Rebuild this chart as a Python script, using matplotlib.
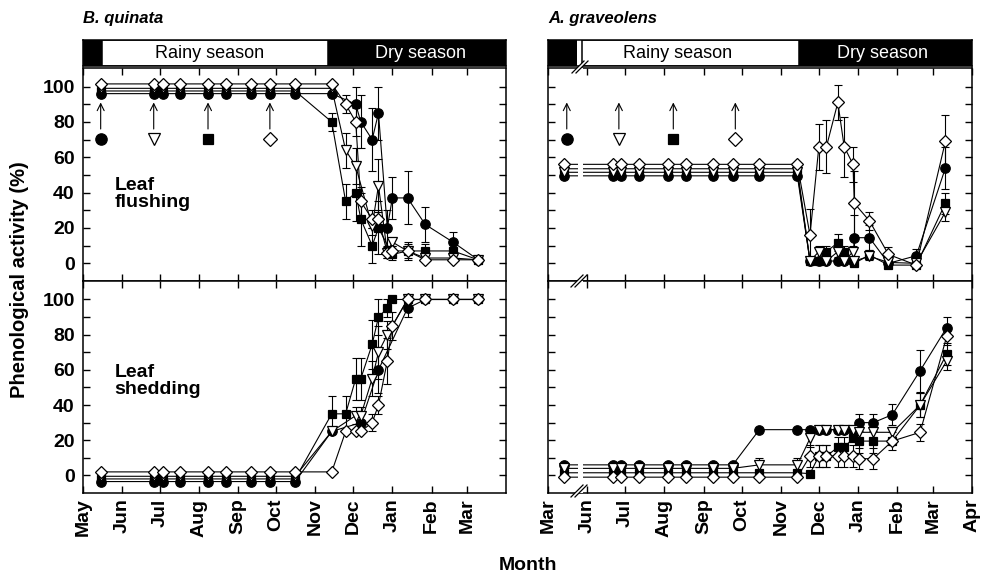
import numpy as np
import matplotlib
matplotlib.use("Agg")
import matplotlib.pyplot as plt
import matplotlib.dates as mdates
from matplotlib.lines import Line2D
from matplotlib.patches import Rectangle, Polygon

plt.rcParams['font.family'] = ['Liberation Sans', 'DejaVu Sans']

nan = np.nan

# ---------------- B. quinata ----------------
bq_dates = ['2000-05-15', '2000-06-26', '2000-07-03', '2000-07-17', '2000-08-08', '2000-08-22',
            '2000-09-11', '2000-09-26', '2000-10-16', '2000-11-14', '2000-11-25', '2000-12-03',
            '2000-12-07', '2000-12-16', '2000-12-21', '2000-12-28', '2001-01-01', '2001-01-13',
            '2001-01-27', '2001-02-18', '2001-03-10']

bq_flush_circle = [96, 96, 96, 96, 96, 96, 96, 96, 96, 96, nan, 90, 80, 70, 85, 20, 37, 37, 22, 12, 2]
bq_flush_triangle = [99, 99, 99, 99, 99, 99, 99, 99, 99, 99, 64, 55, nan, 21, 44, 6, 12, 7, 3, 3, 2]
bq_flush_square = [97.5, 97.5, 97.5, 97.5, 97.5, 97.5, 97.5, 97.5, 97.5, 80, 35, 40, 25, 10, 20, nan, 5, 7, 7, 7, 2]
bq_flush_diamond = [101.5, 101.5, 101.5, 101.5, 101.5, 101.5, 101.5, 101.5, 101.5, 101.5, 90, 80, 35, 25, 25, 6, 7, 7, 2, 2, 2]
bq_flush_circle_err = [0, 0, 0, 0, 0, 0, 0, 0, 0, 0, 0, 10, 15, 18, 15, 10, 12, 15, 10, 6, 0]
bq_flush_triangle_err = [0, 0, 0, 0, 0, 0, 0, 0, 0, 0, 10, 10, 0, 5, 15, 3, 2, 2, 0, 0, 0]
bq_flush_square_err = [0, 0, 0, 0, 0, 0, 0, 0, 0, 5, 10, 16, 15, 10, 15, 0, 3, 4, 4, 4, 0]
bq_flush_diamond_err = [0, 0, 0, 0, 0, 0, 0, 0, 0, 0, 5, 8, 8, 5, 5, 3, 3, 5, 0, 0, 0]

bq_shed_circle = [-3.5, -3.5, -3.5, -3.5, -3.5, -3.5, -3.5, -3.5, -3.5, 25, nan, nan, 30, nan, 60, nan, nan, 95, 100, 100, 100]
bq_shed_triangle = [-0.5, -0.5, -0.5, -0.5, -0.5, -0.5, -0.5, -0.5, -0.5, 25, nan, 34, 34, 55, 70, 80, nan, 100, 100, 100, 100]
bq_shed_square = [-2, -2, -2, -2, -2, -2, -2, -2, -2, 35, 35, 55, 55, 74.5, 90, 95, 100, 100, 100, 100, 100]
bq_shed_diamond = [2, 2, 2, 2, 2, 2, 2, 2, 2, 2, 25, 25, 25, 30, 40, 65, 85, 100, 100, 100, 100]
bq_shed_circle_err = [0, 0, 0, 0, 0, 0, 0, 0, 0, 0, 0, 0, 5, 0, 13, 0, 0, 5, 0, 0, 0]
bq_shed_triangle_err = [0, 0, 0, 0, 0, 0, 0, 0, 0, 0, 0, 5, 5, 10, 15, 8, 0, 0, 0, 0, 0]
bq_shed_square_err = [0, 0, 0, 0, 0, 0, 0, 0, 0, 10, 10, 12, 12, 14, 10, 5, 0, 0, 0, 0, 0]
bq_shed_diamond_err = [0, 0, 0, 0, 0, 0, 0, 0, 0, 0, 0, 0, 0, 5, 5, 13, 8, 0, 0, 0, 0]

# ---------------- A. graveolens ----------------
ag_flush_dates = ['2000-04-07', '2000-06-21', '2000-06-28', '2000-07-12', '2000-08-04', '2000-08-18',
                  '2000-09-08', '2000-09-24', '2000-10-15', '2000-11-14', '2000-11-24', '2000-12-01',
                  '2000-12-07', '2000-12-16', '2000-12-21', '2000-12-28', '2000-12-29', '2001-01-10',
                  '2001-01-25', '2001-02-16', '2001-03-11']
ag_flush_circle = [49.5, 49.5, 49.5, 49.5, 49.5, 49.5, 49.5, 49.5, 49.5, 49.5, 1.3, 1.3, 1.3, 1.3, 1.3, 1.3, 14.5, 14.5, 0, 4.3, 54]
ag_flush_triangle = [51.5, 51.5, 51.5, 51.5, 51.5, 51.5, 51.5, 51.5, 51.5, 51.5, 1.3, 6.6, 1.3, 6.6, 1.3, 6.6, 1.3, 4, 0.5, 0, 29]
ag_flush_square = [53.5, 53.5, 53.5, 53.5, 53.5, 53.5, 53.5, 53.5, 53.5, 53.5, 1.3, 1.3, 6.6, 11.7, 6.6, nan, 0, 4.7, -1, -1, 34]
ag_flush_diamond = [56, 56, 56, 56, 56, 56, 56, 56, 56, 56, 16, 66, 66, 91, 66, 56, 34, 24, 5, -1, 69]
ag_flush_circle_err = [0, 0, 0, 0, 0, 0, 0, 0, 0, 0, 0, 0, 0, 0, 0, 0, 13, 7, 0, 4, 12]
ag_flush_triangle_err = [0, 0, 0, 0, 0, 0, 0, 0, 0, 0, 0, 3, 0, 3, 0, 3, 0, 0, 0, 0, 5]
ag_flush_square_err = [0, 0, 0, 0, 0, 0, 0, 0, 0, 0, 0, 0, 3, 5, 3, 0, 0, 3, 0, 0, 6]
ag_flush_diamond_err = [0, 0, 0, 0, 0, 0, 0, 0, 0, 0, 15, 13, 15, 10, 17, 10, 18, 5, 4, 0, 15]

ag_shed_dates = ['2000-04-07', '2000-06-21', '2000-06-28', '2000-07-12', '2000-08-04', '2000-08-18',
                 '2000-09-08', '2000-09-24', '2000-10-15', '2000-11-14', '2000-11-24', '2000-12-01',
                 '2000-12-07', '2000-12-16', '2000-12-21', '2000-12-28', '2001-01-02', '2001-01-13',
                 '2001-01-28', '2001-02-19', '2001-03-12']
ag_shed_circle = [6, 6, 6, 6, 6, 6, 6, 6, 26, 26, 26, 26, 26, 26, 26, 26, 30, 30, 34.5, 59.5, 84]
ag_shed_triangle = [4, 4, 4, 4, 4, 4, 4, 4, 6, 6, 21, 26, 26, 26, 26, 26, 24.5, 24.5, 24.5, 40, 65]
ag_shed_square = [1.5, 1.5, 1.5, 1.5, 1.5, 1.5, 1.5, 1.5, 1.5, 1.5, 1, 11, 11, 16, 16, 21, 19.5, 19.5, 19.5, 40, 69]
ag_shed_diamond = [-1, -1, -1, -1, -1, -1, -1, -1, -1, -1, 11, 11, 11, 11, 11, 11, 9.5, 9.5, 19.5, 24.5, 79]
ag_shed_circle_err = [0, 0, 0, 0, 0, 0, 0, 0, 0, 0, 0, 0, 0, 0, 0, 0, 5, 5, 6, 12, 6]
ag_shed_triangle_err = [0, 0, 0, 0, 0, 0, 0, 0, 4, 4, 5, 0, 0, 0, 0, 0, 3, 3, 3, 7, 5]
ag_shed_square_err = [0, 0, 0, 0, 0, 0, 0, 0, 0, 0, 0, 6, 6, 6, 6, 0, 7, 7, 0, 7, 6]
ag_shed_diamond_err = [0, 0, 0, 0, 0, 0, 0, 0, 0, 0, 6, 6, 6, 6, 6, 6, 6, 6, 5, 5, 5]

# arrows marking the onset events (one per symbol)
bq_arrow_dates = ['2000-05-15', '2000-06-26', '2000-08-08', '2000-09-26']
ag_arrow_dates = ['2000-04-14', '2000-06-26', '2000-08-08', '2000-09-26']

# seasons
bq_rainy = ('2000-05-16', '2000-11-11')
ag_rainy = ('2000-05-20', '2000-11-15')
ag_black_end = '2000-05-08'

month_ticks = ['2000-05-01', '2000-06-01', '2000-07-01', '2000-08-01', '2000-09-01', '2000-10-01',
               '2000-11-01', '2000-12-01', '2001-01-01', '2001-02-01', '2001-03-01', '2001-04-01']
bq_month_labels = ['May', 'Jun', 'Jul', 'Aug', 'Sep', 'Oct', 'Nov', 'Dec', 'Jan', 'Feb', 'Mar']
ag_month_labels = ['Mar', 'Jun', 'Jul', 'Aug', 'Sep', 'Oct', 'Nov', 'Dec', 'Jan', 'Feb', 'Mar', 'Apr']

# ---------------- helpers ----------------
def dnum(s):
    return mdates.datestr2num(s)

X0 = dnum('2000-05-01')
X1 = dnum('2001-04-01')
MAR1 = dnum('2000-03-01')
JUN1 = dnum('2000-06-01')


def bq_x(dates):
    return np.array([dnum(d) for d in dates])


def ag_x(dates):
    # broken axis: Mar 1 - Jun 1 is compressed into the May slot
    out = []
    for d in dates:
        v = dnum(d)
        if v < JUN1:
            v = X0 + (v - MAR1) * (JUN1 - X0) / (JUN1 - MAR1)
        out.append(v)
    return np.array(out)


W, H = 990, 577
fig = plt.figure(figsize=(9.9, 5.77), dpi=100)


def fx(px):
    return px / W


def fy(py):
    return 1 - py / H


def axes_px(x0, y0, x1, y1):
    return fig.add_axes([fx(x0), fy(y1), (x1 - x0) / W, (y1 - y0) / H])


LW = 0.8
styles = {
    'circle': dict(marker='o', mfc='black', ms=6.8),
    'square': dict(marker='s', mfc='black', ms=6.2),
    'triangle': dict(marker='v', mfc='white', ms=7.2),
    'diamond': dict(marker='D', mfc='white', ms=5.8),
}
order = ['circle', 'square', 'triangle', 'diamond']


def draw_series(ax, x, series, errs):
    for i, name in enumerate(order):
        y = np.array(series[name], dtype=float)
        e = np.array(errs[name], dtype=float)
        m = ~np.isnan(y)
        ax.plot(x[m], y[m], color='black', lw=LW, zorder=2 + i * 0.01)
        em = m & (e > 0)
        if em.any():
            ax.errorbar(x[em], y[em], yerr=e[em], fmt='none', ecolor='black',
                        elinewidth=LW, capsize=3, capthick=LW, zorder=2.5)
        st = styles[name]
        ax.plot(x[m], y[m], ls='none', marker=st['marker'], ms=st['ms'],
                mfc=st['mfc'], mec='black', mew=0.9, zorder=4 + i * 0.1)


def style_axes(ax, labels, bottom_labels, left_labels):
    ax.set_xlim(X0, X1)
    ax.set_ylim(-10, 110.5)
    ax.set_yticks([0, 20, 40, 60, 80, 100])
    ax.set_yticks([10, 30, 50, 70, 90], minor=True)
    ticks = [dnum(t) for t in month_ticks[:len(labels)]]
    ax.set_xticks(ticks)
    ax.set_xticklabels(labels if bottom_labels else [])
    ax.tick_params(axis='both', which='both', direction='in', top=True, right=True,
                   length=5, width=1, labelsize=14, pad=6)
    ax.tick_params(axis='x', pad=4, labelrotation=90)
    ax.tick_params(labelbottom=bottom_labels, labelleft=left_labels)
    for lab in ax.get_xticklabels() + ax.get_yticklabels():
        lab.set_fontweight('bold')
    for sp in ax.spines.values():
        sp.set_linewidth(1.1)


axL_top = axes_px(83, 68, 506, 281)
axL_bot = axes_px(83, 281, 506, 493)
axR_top = axes_px(548, 68, 972, 281)
axR_bot = axes_px(548, 281, 972, 493)

xb = bq_x(bq_dates)
draw_series(axL_top, xb,
            dict(circle=bq_flush_circle, triangle=bq_flush_triangle, square=bq_flush_square, diamond=bq_flush_diamond),
            dict(circle=bq_flush_circle_err, triangle=bq_flush_triangle_err, square=bq_flush_square_err, diamond=bq_flush_diamond_err))
draw_series(axL_bot, xb,
            dict(circle=bq_shed_circle, triangle=bq_shed_triangle, square=bq_shed_square, diamond=bq_shed_diamond),
            dict(circle=bq_shed_circle_err, triangle=bq_shed_triangle_err, square=bq_shed_square_err, diamond=bq_shed_diamond_err))
draw_series(axR_top, ag_x(ag_flush_dates),
            dict(circle=ag_flush_circle, triangle=ag_flush_triangle, square=ag_flush_square, diamond=ag_flush_diamond),
            dict(circle=ag_flush_circle_err, triangle=ag_flush_triangle_err, square=ag_flush_square_err, diamond=ag_flush_diamond_err))
draw_series(axR_bot, ag_x(ag_shed_dates),
            dict(circle=ag_shed_circle, triangle=ag_shed_triangle, square=ag_shed_square, diamond=ag_shed_diamond),
            dict(circle=ag_shed_circle_err, triangle=ag_shed_triangle_err, square=ag_shed_square_err, diamond=ag_shed_diamond_err))

style_axes(axL_top, bq_month_labels, False, True)
style_axes(axL_bot, bq_month_labels, True, True)
style_axes(axR_top, ag_month_labels, False, False)
style_axes(axR_bot, ag_month_labels, True, False)

# arrows + symbol keys
arrow_syms = ['circle', 'triangle', 'square', 'diamond']
for ax, xs in ((axL_top, bq_x(bq_arrow_dates)), (axR_top, ag_x(ag_arrow_dates))):
    for xv, name in zip(xs, arrow_syms):
        ax.annotate('', xy=(xv, 91), xytext=(xv, 76),
                    arrowprops=dict(arrowstyle='->,head_length=0.5,head_width=0.25', lw=0.8, color='black',
                                    shrinkA=0, shrinkB=0))
        st = styles[name]
        ax.plot([xv], [70.5], ls='none', marker=st['marker'], ms=st['ms'] * 1.2,
                mfc=st['mfc'], mec='black', mew=0.9, zorder=5)

# break gap in the A. graveolens lines
for ax in (axR_top, axR_bot):
    gx0 = X0 + (578 - 548) / (972 - 548) * (X1 - X0)
    gx1 = X0 + (583 - 548) / (972 - 548) * (X1 - X0)
    ax.axvspan(gx0, gx1, color='white', zorder=3, lw=0)

# panel texts
axL_top.text(0.075, 0.49, 'Leaf\nflushing', transform=axL_top.transAxes, fontsize=14,
             fontweight='bold', va='top', ha='left', linespacing=1.0)
axL_bot.text(0.075, 0.61, 'Leaf\nshedding', transform=axL_bot.transAxes, fontsize=14,
             fontweight='bold', va='top', ha='left', linespacing=1.0)

# season bars
sL = axes_px(83, 40, 506, 66)
sR = axes_px(548, 40, 972, 66)
for s in (sL, sR):
    s.set_xlim(X0, X1)
    s.set_ylim(0, 1)
    s.set_xticks([])
    s.set_yticks([])
    for sp in s.spines.values():
        sp.set_linewidth(1.1)

r0, r1 = dnum(bq_rainy[0]), dnum(bq_rainy[1])
sL.add_patch(Rectangle((X0, 0), r0 - X0, 1, color='black', lw=0))
sL.add_patch(Rectangle((r0, 0), r1 - r0, 1, facecolor='white', edgecolor='black', lw=1.1))
sL.add_patch(Rectangle((r1, 0), X1 - r1, 1, color='black', lw=0))
sL.text((r0 + r1) / 2 - 4, 0.5, 'Rainy season', ha='center', va='center', fontsize=13)
sL.text((r1 + X1) / 2 + 3, 0.5, 'Dry season', ha='center', va='center', fontsize=13, color='white')

a0 = ag_x([ag_rainy[0]])[0]
a1 = dnum(ag_rainy[1])
ab = ag_x([ag_black_end])[0]
sR.add_patch(Rectangle((X0, 0), ab - X0, 1, color='black', lw=0))
sR.add_patch(Rectangle((a0, 0), a1 - a0, 1, facecolor='white', edgecolor='black', lw=1.1))
sR.add_patch(Rectangle((a1, 0), X1 - a1, 1, color='black', lw=0))
sR.text((a0 + a1) / 2 - 10, 0.5, 'Rainy season', ha='center', va='center', fontsize=13)
sR.text((a1 + X1) / 2 - 2, 0.5, 'Dry season', ha='center', va='center', fontsize=13, color='white')


# break marks "//"
def break_mark(cx, cy):
    dx, dy = 6, 6
    off = 4
    poly = Polygon([(fx(cx - dx - off / 2), fy(cy + dy)), (fx(cx + dx - off / 2), fy(cy - dy)),
                    (fx(cx + dx + off / 2), fy(cy - dy)), (fx(cx - dx + off / 2), fy(cy + dy))],
                   closed=True, transform=fig.transFigure, facecolor='white', edgecolor='none', zorder=10)
    fig.add_artist(poly)
    for o in (-off / 2, off / 2):
        fig.add_artist(Line2D([fx(cx - dx + o), fx(cx + dx + o)], [fy(cy + dy), fy(cy - dy)],
                              transform=fig.transFigure, color='black', lw=0.9, zorder=11))


break_mark(580, 67)
break_mark(579, 281)
break_mark(579, 491)

# titles and axis labels
fig.text(fx(83), fy(18), 'B. quinata', fontsize=12, fontweight='bold', fontstyle='italic', va='center', ha='left')
fig.text(fx(548), fy(18), 'A. graveolens', fontsize=12, fontweight='bold', fontstyle='italic', va='center', ha='left')
fig.text(fx(20), fy(280), 'Phenological activity (%)', rotation=90, fontsize=14.5, fontweight='bold',
         va='center', ha='center')
fig.text(fx(528), fy(566), 'Month', fontsize=14, fontweight='bold', va='center', ha='center')

fig.savefig('out.png', dpi=100)
